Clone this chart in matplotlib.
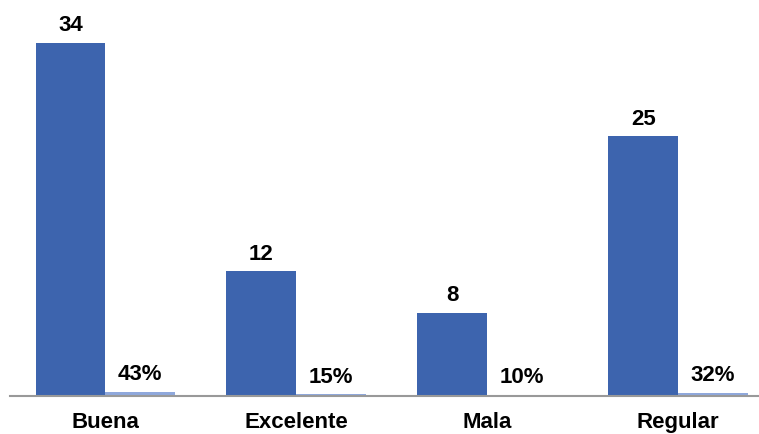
import numpy as np
import matplotlib.pyplot as plt

categories = ["Buena", "Excelente", "Mala", "Regular"]
counts = [34, 12, 8, 25]
shares = [0.43, 0.15, 0.10, 0.32]
share_labels = ["43%", "15%", "10%", "32%"]

plt.rcParams['font.family'] = ['Liberation Sans', 'DejaVu Sans']

fig = plt.figure(figsize=(7.59, 4.35), dpi=100)
ax = fig.add_axes([10 / 759, 38 / 435, 1 - 10 / 759, 1 - 38 / 435])

x = np.arange(len(categories))
w = 0.366
b1 = ax.bar(x - w / 2, counts, w, color='#3D64AE')
b2 = ax.bar(x + w / 2, shares, w, color='#8FA8DC')

# value labels above each bar
for bars, labels in [(b1, [str(v) for v in counts]), (b2, share_labels)]:
    for rect, s in zip(bars, labels):
        ax.annotate(s, (rect.get_x() + rect.get_width() / 2, rect.get_height()),
                    xytext=(0, 5.5), textcoords='offset points', ha='center', va='bottom',
                    fontsize=16, fontweight='bold')

ax.set_xlim(-0.5, 3.424)
ax.set_ylim(0, 38.2)
ax.set_xticks(x)
ax.set_xticklabels(categories, fontsize=16, fontweight='bold')
ax.tick_params(axis='x', length=0, pad=11)
ax.set_yticks([])
for side in ['top', 'right', 'left']:
    ax.spines[side].set_visible(False)
ax.spines['bottom'].set_color('#999999')
ax.spines['bottom'].set_linewidth(1.5)

fig.savefig('out.png', dpi=100)
